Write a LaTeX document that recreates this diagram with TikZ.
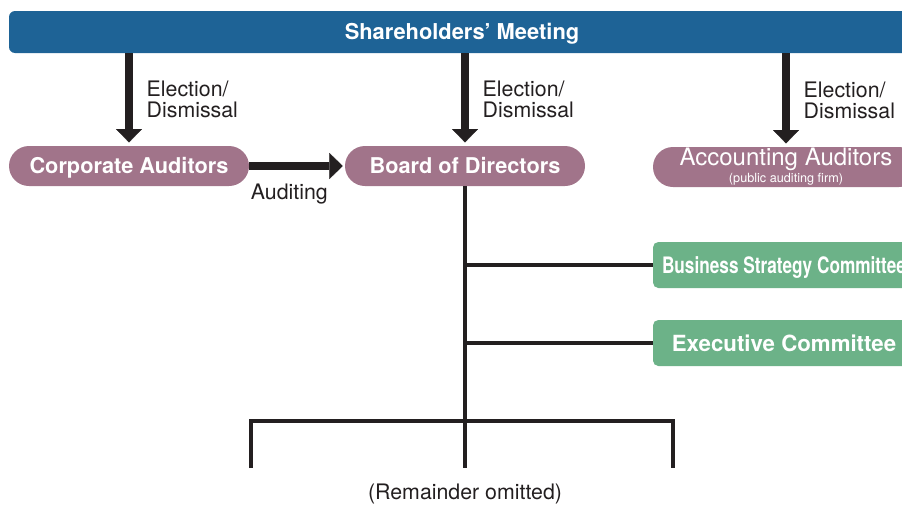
\documentclass[tikz,border=0pt]{standalone}
\usepackage{fontspec}
\setmainfont{TeX Gyre Heros}
\newfontfamily\narrowfont[FakeStretch=0.76]{TeX Gyre Heros}
\usepackage{tikz}
\definecolor{meetingblue}{RGB}{30,99,150}
\definecolor{pillmauve}{RGB}{161,116,138}
\definecolor{comgreen}{RGB}{108,178,136}
\definecolor{textgray}{RGB}{35,31,32}
\usetikzlibrary{arrows.meta}

\begin{document}
\begin{tikzpicture}[x=0.75pt, y=-0.75pt,
		>={Triangle[length=10pt, width=19.5pt, line width=0.1pt]},   %Pfeilspitzen
		pill/.style={fill=pillmauve, text=white, rounded corners=15pt, minimum width=180pt, minimum height=30pt, inner sep=0pt,
			text height=11.8pt, text depth=0pt, font=\fontsize{16.3}{18}\selectfont\bfseries},
		combox/.style={fill=comgreen, text=white, rounded corners=4pt, minimum width=196.5pt, minimum height=34.5pt, inner sep=0pt,
			text height=12pt, text depth=0pt, font=\fontsize{16.7}{18}\selectfont\bfseries},
		bigarrow/.style={->, line width=5.6pt, draw=textgray, fill=textgray, shorten >=2.5pt},
		thinline/.style={line width=2.3pt, draw=textgray},
		lbl/.style={text=textgray, inner sep=0pt, align=left, font=\fontsize{16}{15.75}\selectfont}]
		%Bildbereich
		\useasboundingbox (0,0) rectangle (902,507);
		\clip (0,0) rectangle (902,507);
		% Hauptversammlung
		\node[fill=meetingblue, text=white, rounded corners=4.5pt, minimum width=679.5pt, minimum height=31.5pt, inner sep=0pt,
			text height=11.8pt, text depth=0pt, font=\fontsize{16.4}{18}\selectfont\bfseries] (meeting) at (462,32) {Shareholders’ Meeting};
		% Organe
		\node[pill] (corp) at (129,166) {Corporate Auditors};
		\node[pill] (board) at (465,166) {Board of Directors};
		\node[pill, minimum width=199.5pt, align=center, text height=, text depth=, font=\fontsize{18}{18}\selectfont] (acct) at (786,167)
			{Accounting Auditors\\[-5.2pt]{\fontsize{9.5}{10}\selectfont (public auditing firm)}};
		% Ausschuesse
		\node[combox, font=\narrowfont\fontsize{17}{18}\selectfont\bfseries] (bsc) at (784,265) {Business Strategy Committee};
		\node[combox] (exe) at (784,343) {Executive Committee};
		% Wahl / Abberufung
		\foreach \ziel in {corp, board, acct}
			\draw[bigarrow] (meeting.south -| \ziel) -- node[lbl, right=10.5pt] (el-\ziel) {Election/\\Dismissal} (\ziel.north);
		% Pruefung
		\draw[bigarrow, shorten >=1.5pt] (corp) -- node[lbl, pos=0.42, below=10.5pt] (audit) {Auditing} (board);
		% Linien unter dem Vorstand
		\coordinate (gabel) at (465,421);
		\coordinate (links) at (251,468);
		\coordinate (rechts) at (673,468);
		\draw[thinline] (board.south) -- (board.south |- links);
		\foreach \ziel in {bsc, exe}
			\draw[thinline] (board.south |- \ziel.west) -- (\ziel.west);
		\draw[thinline] (links) |- (gabel) -| (rechts);
		\node[lbl] (rest) at (465,494) {(Remainder omitted)};
\end{tikzpicture}
\end{document}
